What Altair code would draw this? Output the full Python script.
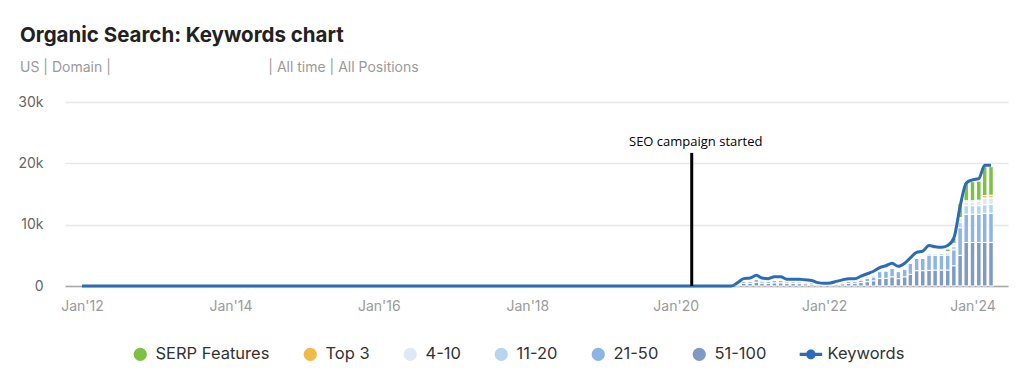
import altair as alt
import pandas as pd

# ---------------- data ----------------
series_names = ["SERP Features", "Top 3", "4-10", "11-20", "21-50", "51-100", "Keywords"]
series_colors = ["#7cc143", "#f1b94a", "#dde9f7", "#b8d5f0", "#8db4e2", "#7f9bc3", "#2c6bb6"]

# monthly bars, Nov 2020 .. Apr 2024
bar_months = pd.date_range("2020-11-01", periods=42, freq="MS")

pos_51_100 = [200, 420, 440, 600, 460, 420, 520, 520, 400, 400, 390, 360,
              320, 200, 160, 180, 270, 360, 430, 430, 560, 710, 850, 1250,
              1250, 1500, 1200, 1500, 1900, 2500, 2500, 2550, 2600, 2600, 2600, 3300,
              5000, 7100, 7100, 7100, 7100, 7100]
pos_21_50 = [130, 300, 320, 450, 340, 310, 390, 380, 290, 290, 280, 260,
             230, 140, 120, 130, 190, 260, 310, 310, 410, 520, 630, 1100,
             1200, 1350, 1150, 1250, 1800, 2000, 2000, 2500, 2400, 2400, 2450, 2600,
             4500, 4600, 4600, 4600, 4750, 4750]
pos_11_20 = [70, 150, 160, 220, 170, 150, 190, 190, 140, 140, 140, 130,
             120, 70, 60, 60, 100, 130, 150, 150, 200, 250, 300, 150,
             150, 150, 150, 150, 200, 200, 200, 300, 250, 300, 350, 600,
             900, 1400, 1400, 1400, 1400, 1450]
pos_4_10 = [40, 90, 90, 130, 100, 90, 110, 120, 90, 90, 90, 80,
            70, 50, 30, 40, 60, 80, 100, 100, 130, 160, 200, 80,
            80, 80, 80, 80, 100, 100, 150, 150, 150, 200, 200, 400,
            600, 600, 600, 700, 1100, 1100]
pos_top3 = [0, 10, 10, 20, 10, 10, 10, 10, 10, 10, 10, 0,
            0, 0, 0, 0, 0, 0, 10, 10, 20, 20, 20, 0,
            0, 0, 0, 0, 0, 20, 20, 20, 20, 20, 30, 50,
            150, 200, 200, 200, 400, 400]
serp_features = [10, 30, 30, 30, 20, 20, 30, 30, 20, 20, 20, 20,
                 20, 10, 10, 10, 20, 20, 20, 20, 30, 40, 50, 20,
                 20, 20, 20, 20, 50, 30, 50, 50, 50, 80, 400, 800,
                 2300, 3000, 3100, 3100, 4700, 4650]

# Keywords line: flat zero from Jan 2012 to Oct 2020, then monthly
kw_start = ["2012-01-01", "2020-10-01"]
kw_start_values = [0, 0]
keywords = [550, 1200, 1300, 1750, 1300, 1200, 1500, 1500, 1100, 1100, 1100, 1000,
            900, 550, 450, 500, 750, 1000, 1200, 1200, 1600, 2000, 2400, 3000,
            3300, 3700, 3200, 3700, 4600, 5500, 5700, 6600, 6400, 6300, 6600, 7800,
            13000, 16800, 17300, 17500, 19700, 19700]

annotation_text = "SEO campaign started"
annotation_date = "2020-03-20"
annotation_top = 21700
annotation_text_y = 23400

# ---------------- tables ----------------
stack = [("51-100", pos_51_100), ("21-50", pos_21_50), ("11-20", pos_11_20),
         ("4-10", pos_4_10), ("Top 3", pos_top3), ("SERP Features", serp_features)]
rows = []
for rank, (name, vals) in enumerate(stack):
    for d, v in zip(bar_months, vals):
        rows.append({"date": d, "series": name, "value": v, "rank": rank})
bars_df = pd.DataFrame(rows)

line_dates = list(pd.to_datetime(kw_start)) + list(bar_months)
line_df = pd.DataFrame({"date": line_dates, "value": kw_start_values + keywords,
                        "series": "Keywords"})

ann_df = pd.DataFrame({"date": [pd.Timestamp(annotation_date)], "y0": [0],
                       "y1": [annotation_top], "ty": [annotation_text_y],
                       "label": [annotation_text]})

# ---------------- chart ----------------
FONT = "Inter"
color_scale = alt.Scale(domain=series_names, range=series_colors)

kw_path = ("M-1.9,-0.24H1.5V0.24H-1.9Z "
           "M0.52,0A0.72,0.72,0,1,1,-0.92,0A0.72,0.72,0,1,1,0.52,0Z")
legend = alt.Legend(
    orient="none", legendX=67, legendY=244, direction="horizontal", columns=7,
    title=None, symbolSize=175,
    symbolType=alt.ExprRef(expr=f"datum.value === 'Keywords' ? '{kw_path}' : 'circle'"),
    symbolStrokeWidth=0, labelFont=FONT, labelFontSize=16.5, labelColor="#333333",
    columnPadding=32, labelOffset=7, padding=0,
)

x_scale = alt.Scale(domain=[alt.DateTime(year=2011, month=11, date=3),
                            alt.DateTime(year=2024, month=5, date=30)])
x_axis = alt.Axis(
    values=[alt.DateTime(year=y, month=1, date=1) for y in range(2012, 2025, 2)],
    format="%b'%y", title=None, grid=False, ticks=False, labelFont=FONT,
    labelFontSize=14, labelColor="#9a9a9a", labelPadding=13,
    domainColor="#a8a8a8", domainWidth=1.5, labelFlush=False,
)
y_scale = alt.Scale(domain=[0, 30000])
y_axis = alt.Axis(
    values=[0, 10000, 20000, 30000], title=None, ticks=False,
    labelExpr="datum.value === 0 ? '0' : (datum.value / 1000) + 'k'",
    domain=False, labelFont=FONT, labelFontSize=14, labelColor="#666666",
    labelPadding=22, gridColor="#e8e8e8", gridWidth=1.5,
)

bars = alt.Chart(bars_df).mark_bar(width=4.5, stroke="white", strokeWidth=1).encode(
    x=alt.X("date:T", scale=x_scale, axis=x_axis),
    y=alt.Y("value:Q", stack="zero", scale=y_scale, axis=y_axis),
    color=alt.Color("series:N", scale=color_scale, legend=legend),
    order=alt.Order("rank:Q", sort="ascending"),
)

line = alt.Chart(line_df).mark_line(interpolate="monotone", strokeWidth=3).encode(
    x=alt.X("date:T"),
    y=alt.Y("value:Q"),
    color=alt.Color("series:N", scale=color_scale, legend=legend),
)

rule = alt.Chart(ann_df).mark_rule(color="black", strokeWidth=3).encode(
    x="date:T", y="y0:Q", y2="y1:Q"
)
text = alt.Chart(ann_df).mark_text(
    font="Open Sans", fontSize=13, color="black", baseline="middle", align="center", dx=4
).encode(x="date:T", y="ty:Q", text="label:N")

chart = alt.layer(bars, line, rule, text).properties(
    width=943, height=184,
    autosize="none",
    padding={"left": 57, "top": 94, "right": 8, "bottom": 91},
    title=alt.TitleParams(
        text="Organic Search: Keywords chart",
        subtitle="US | Domain |" + "\u00a0" * 40 + "| All time | All Positions",
        anchor="start", frame="group", dx=-45, offset=20,
        font=FONT, fontSize=20.5, fontWeight=700, color="#222222",
        subtitleFont=FONT, subtitleFontSize=14, subtitleColor="#9a9a9a",
        subtitlePadding=15,
    ),
).configure_view(stroke=None)

chart.save("out.html", embed_options={"renderer": "svg", "actions": False})
